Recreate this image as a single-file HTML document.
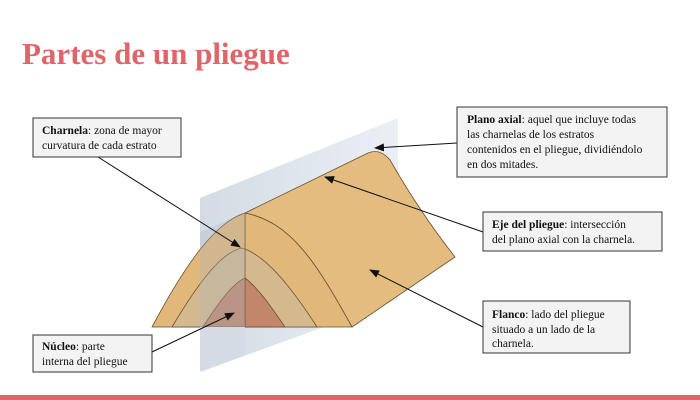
<!DOCTYPE html>
<html><head><meta charset="utf-8"><style>
html,body{margin:0;padding:0;background:#fff;}
svg{display:block;}
.t{font-family:"Liberation Serif",serif;font-size:11.5px;fill:#111;}
</style></head><body>
<svg width="700" height="400" viewBox="0 0 700 400">
<defs>
<marker id="a" markerWidth="10" markerHeight="8" refX="9" refY="4" orient="auto" markerUnits="userSpaceOnUse">
<path d="M0,0 L10,4 L0,8 z" fill="#111"/></marker>
<linearGradient id="pl" x1="0" y1="0" x2="1" y2="0"><stop offset="0" stop-color="#d3dce4"/><stop offset="1" stop-color="#eaeff4"/></linearGradient>
</defs>
<rect width="700" height="400" fill="#fff"/>
<text x="22" y="64" font-family="Liberation Serif,serif" font-weight="bold" font-size="31" fill="#e06468">Partes de un pliegue</text>
<polygon points="200,198 398,118 398,300 200,372" fill="url(#pl)"/>
<path d="M245,213 L368,153 Q380,148 390,160 C410,195 430,225 455,257 L352,327 C315,260 290,222 245,213 Z" fill="#e4bc80" stroke="#6a5030" stroke-width="0.8"/>
<path d="M152,327 C185,265 215,222 245,213 C290,222 315,260 352,327 Z" fill="#e2b77a" stroke="#6a5030" stroke-width="0.8"/>
<path d="M172,327 C200,280 222,252 242,248 C265,255 290,285 317,327 Z" fill="#d4b98e" stroke="#6a5030" stroke-width="0.8"/>
<path d="M203,327 C220,300 235,282 245,278 C258,288 270,305 285,327 Z" fill="#c2866a" stroke="#6a5030" stroke-width="0.8"/>
<line x1="245" y1="213" x2="245" y2="327" stroke="#6a5030" stroke-width="0.8"/>
<polygon points="200,232 245,213 245,327 200,327" fill="#a9b6c0" opacity="0.3"/>
<polygon points="200,327 245,327 245,355 200,372" fill="#d3dce4"/>
<g stroke="#111" stroke-width="1" fill="none">
<line x1="98" y1="157" x2="240" y2="247" marker-end="url(#a)"/>
<line x1="457" y1="143" x2="375" y2="148" marker-end="url(#a)"/>
<line x1="483" y1="232" x2="325" y2="177" marker-end="url(#a)"/>
<line x1="483" y1="327" x2="370" y2="270" marker-end="url(#a)"/>
<line x1="152" y1="352" x2="234" y2="313" marker-end="url(#a)"/>
</g>
<g fill="#f3f3f3" stroke="#333" stroke-width="1">
<rect x="33" y="118" width="148" height="39"/>
<rect x="457" y="107" width="210" height="70"/>
<rect x="483" y="212" width="179" height="39"/>
<rect x="483" y="301" width="147" height="52"/>
<rect x="33" y="335" width="119" height="37"/>
</g>
<text class="t" x="42" y="134"><tspan font-weight="bold">Charnela</tspan>: zona de mayor</text>
<text class="t" x="42" y="149">curvatura de cada estrato</text>
<text class="t" x="467" y="123"><tspan font-weight="bold">Plano axial</tspan>: aquel que incluye todas</text>
<text class="t" x="467" y="138">las charnelas de los estratos</text>
<text class="t" x="467" y="153">contenidos en el pliegue, dividiéndolo</text>
<text class="t" x="467" y="168">en dos mitades.</text>
<text class="t" x="492" y="228"><tspan font-weight="bold">Eje del pliegue</tspan>: intersección</text>
<text class="t" x="492" y="243">del plano axial con la charnela.</text>
<text class="t" x="492" y="318"><tspan font-weight="bold">Flanco</tspan>: lado del pliegue</text>
<text class="t" x="492" y="333">situado a un  lado de la</text>
<text class="t" x="492" y="347">charnela.</text>
<text class="t" x="42" y="350"><tspan font-weight="bold">Núcleo</tspan>: parte</text>
<text class="t" x="42" y="365">interna del pliegue</text>
<rect x="0" y="395" width="700" height="5" fill="#e06468"/>
</svg>
</body></html>
